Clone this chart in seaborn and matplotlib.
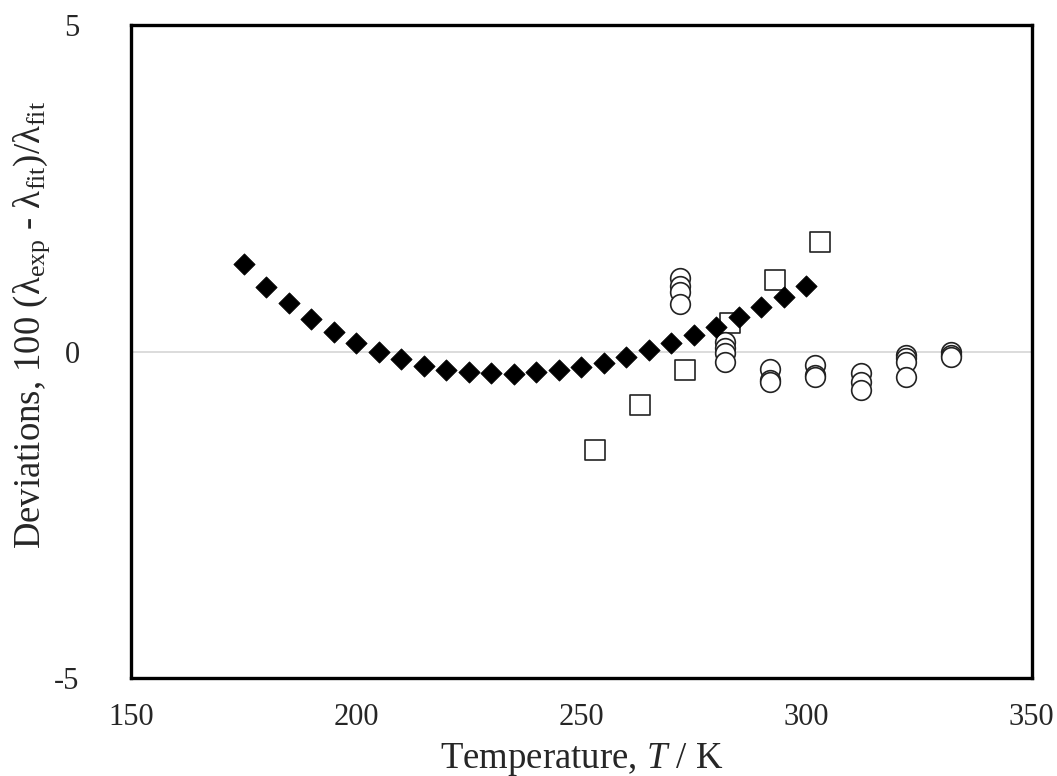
import numpy as np
import pandas as pd
import matplotlib
matplotlib.use("Agg")
import matplotlib.pyplot as plt
from matplotlib.ticker import MultipleLocator, FormatStrFormatter
import seaborn as sns

# Correlation deviations (filled diamonds)
fit_T = [175, 180, 185, 190, 195, 200, 205, 210, 215, 220, 225, 230, 235,
         240, 245, 250, 255, 260, 265, 270, 275, 280, 285, 290, 295, 300]
fit_dev = [1.34, 0.98, 0.74, 0.50, 0.30, 0.13, -0.01, -0.11, -0.22, -0.29,
           -0.32, -0.33, -0.34, -0.32, -0.28, -0.23, -0.17, -0.09, 0.02,
           0.13, 0.25, 0.38, 0.53, 0.68, 0.83, 1.01]

# Open squares
sq_T = [253, 263, 273, 283, 293, 303]
sq_dev = [-1.51, -0.82, -0.29, 0.43, 1.09, 1.68]

# Open circles
ci_T = [272, 272, 272, 272,
        282, 282, 282, 282,
        292, 292, 292,
        302, 302, 302,
        312, 312, 312,
        322, 322, 322, 322,
        332, 332, 332]
ci_dev = [1.12, 1.01, 0.91, 0.72,
          0.14, 0.05, -0.03, -0.16,
          -0.26, -0.44, -0.46,
          -0.21, -0.36, -0.39,
          -0.33, -0.46, -0.59,
          -0.05, -0.10, -0.16, -0.39,
          0.00, -0.05, -0.08]

sns.set_style("white")
plt.rcParams["font.family"] = ["Liberation Serif", "DejaVu Serif"]
plt.rcParams["mathtext.fontset"] = "custom"
plt.rcParams["mathtext.rm"] = "Liberation Serif"
plt.rcParams["mathtext.it"] = "Liberation Serif:italic"
plt.rcParams["axes.unicode_minus"] = False

fig = plt.figure(figsize=(10.57, 7.76), dpi=100)
ax = fig.add_axes([0.124, 0.126, 0.852, 0.842])

ax.axhline(0, color="#d9d9d9", lw=1.3, zorder=0)

sns.scatterplot(x=fit_T, y=fit_dev, marker="D", s=118, color="black",
                edgecolor="black", linewidth=0.5, ax=ax, zorder=3)
sns.scatterplot(x=sq_T, y=sq_dev, marker="s", s=215, facecolor="white",
                edgecolor="#222222", linewidth=1.2, ax=ax, zorder=2)
sns.scatterplot(x=ci_T, y=ci_dev, marker="o", s=200, facecolor="white",
                edgecolor="#222222", linewidth=1.2, ax=ax, zorder=2)

ax.set_xlim(150, 350)
ax.set_ylim(-5, 5)
ax.xaxis.set_major_locator(MultipleLocator(50))
ax.xaxis.set_minor_locator(MultipleLocator(25))
ax.yaxis.set_major_locator(MultipleLocator(5))
ax.yaxis.set_minor_locator(MultipleLocator(2.5))
ax.yaxis.set_major_formatter(FormatStrFormatter("%g"))
ax.tick_params(which="both", direction="in", length=5, width=2,
               color="black", labelsize=22)
ax.tick_params(axis="x", which="major", pad=18)
ax.tick_params(axis="y", which="major", pad=37)
ax.tick_params(top=False, right=False, which="both")

for sp in ax.spines.values():
    sp.set_visible(True)
    sp.set_color("black")
    sp.set_linewidth(2.4)

ax.set_xlabel("Temperature, $\\mathit{T}$ / K", fontsize=26.5, labelpad=6)
ax.set_ylabel("Deviations, 100 (λ$_{\\rm exp}$ - λ$_{\\rm fit}$)/λ$_{\\rm fit}$",
              fontsize=26.5, labelpad=4)
ax.yaxis.set_label_coords(-0.088, 0.54)

fig.savefig("out.png", dpi=100)
